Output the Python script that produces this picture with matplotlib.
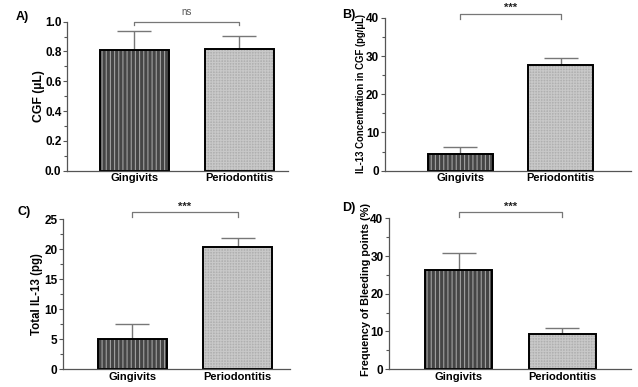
import matplotlib.pyplot as plt
import matplotlib as mpl

plt.rcParams["font.family"] = ["Liberation Sans", "DejaVu Sans"]
plt.rcParams["font.weight"] = "bold"
mpl.rcParams["hatch.linewidth"] = 0.8

groups = ["Gingivits", "Periodontitis"]

cgf_mean = [0.81, 0.817]
cgf_err = [0.127, 0.089]

conc_mean = [4.36, 27.6]
conc_err = [1.9, 1.8]

total_mean = [4.96, 20.38]
total_err = [2.5, 1.56]

bleed_mean = [26.2, 9.29]
bleed_err = [4.7, 1.6]

panels = [
    # label, means, errs, ylabel, ylim, major, sig, axes rect, xlim, label size, label coords
    ("A)", cgf_mean, cgf_err, "CGF (\u00b5L)", 1.0, 0.2, "ns",
     [0.105, 0.559, 0.346, 0.385], (-0.643, 1.46), 8.8, (-0.10, 0.5)),
    ("B)", conc_mean, conc_err, "IL-13 Concentration in CGF (pg/\u00b5L)", 40, 10, "***",
     [0.603, 0.559, 0.386, 0.395], (-0.754, 1.70), 6.9, (-0.074, 0.505)),
    ("C)", total_mean, total_err, "Total IL-13 (pg)", 25, 5, "***",
     [0.0987, 0.0465, 0.356, 0.387], (-0.66, 1.50), 8.3, (-0.088, 0.5)),
    ("D)", bleed_mean, bleed_err, "Frequency of Bleeding points (%)", 40, 10, "***",
     [0.6097, 0.0465, 0.379, 0.389], (-0.67, 1.66), 7.8, (-0.074, 0.53)),
]

brackets = {"A)": (1.0, 0.98, 1.03), "B)": (40.97, 39.6, 42.6),
            "C)": (26.27, 25.4, 27.1), "D)": (41.75, 40.4, 43.1)}
label_pos = {"A)": (22, 17), "B)": (349, 15), "C)": (24, 212), "D)": (349, 208)}

fig = plt.figure(figsize=(6.38, 3.87), dpi=100)

for lab, means, errs, ylabel, ytop, major, sig, rect, xlim, ysize, lc in panels:
    ax = fig.add_axes(rect)
    x = [0, 1]
    b0 = ax.bar(x[0], means[0], width=0.65, color="#454545", edgecolor="black",
                linewidth=1.4, hatch="||||", zorder=2)
    b1 = ax.bar(x[1], means[1], width=0.65, color="#b0b0b0", edgecolor="black",
                linewidth=1.4, hatch="++++++", zorder=2)
    b0[0]._hatch_color = mpl.colors.to_rgba("#a0a0a0")
    b1[0]._hatch_color = mpl.colors.to_rgba("#c8c8c8")
    ax.errorbar(x, means, yerr=[[0, 0], errs], fmt="none", ecolor="#777777",
                elinewidth=1.0, capsize=12, capthick=1.0, zorder=1)

    ax.set_xlim(*xlim)
    ax.set_ylim(0, ytop)
    n = int(round(ytop / major))
    ax.set_yticks([i * major for i in range(n + 1)])
    ax.set_yticks([(i + 0.5) * major for i in range(n)], minor=True)
    if ytop == 1.0:
        ax.set_yticklabels([f"{i * major:.1f}" for i in range(n + 1)])
    ax.set_xticks(x)
    ax.set_xticklabels(groups, fontsize=8, fontweight="bold")
    ax.tick_params(axis="y", labelsize=8.5, length=3, width=0.8, color="#555555", pad=1)
    ax.tick_params(axis="y", which="minor", length=2, width=0.8, color="#555555")
    ax.tick_params(axis="x", length=0, pad=2)
    ax.set_ylabel(ylabel, fontsize=ysize, fontweight="bold")
    ax.yaxis.set_label_coords(*lc)
    for s in ["top", "right"]:
        ax.spines[s].set_visible(False)
    for s in ["left", "bottom"]:
        ax.spines[s].set_color("#555555")
        ax.spines[s].set_linewidth(0.9)

    # significance bracket
    yb, yd, yt = brackets[lab]
    ax.plot([0, 0, 1, 1], [yd, yb, yb, yd], color="#777777", lw=0.9, clip_on=False)
    if sig == "ns":
        ax.text(0.5, yt, sig, ha="center", va="bottom", fontsize=7,
                fontweight="normal", color="#555555")
    else:
        ax.text(0.5, yt, sig, ha="center", va="center", fontsize=8,
                fontweight="bold", color="#222222")

    px, py = label_pos[lab]
    fig.text(px / 638, 1 - py / 387, lab, ha="center", va="center",
             fontsize=9, fontweight="bold")

fig.savefig("out.png", dpi=100)
